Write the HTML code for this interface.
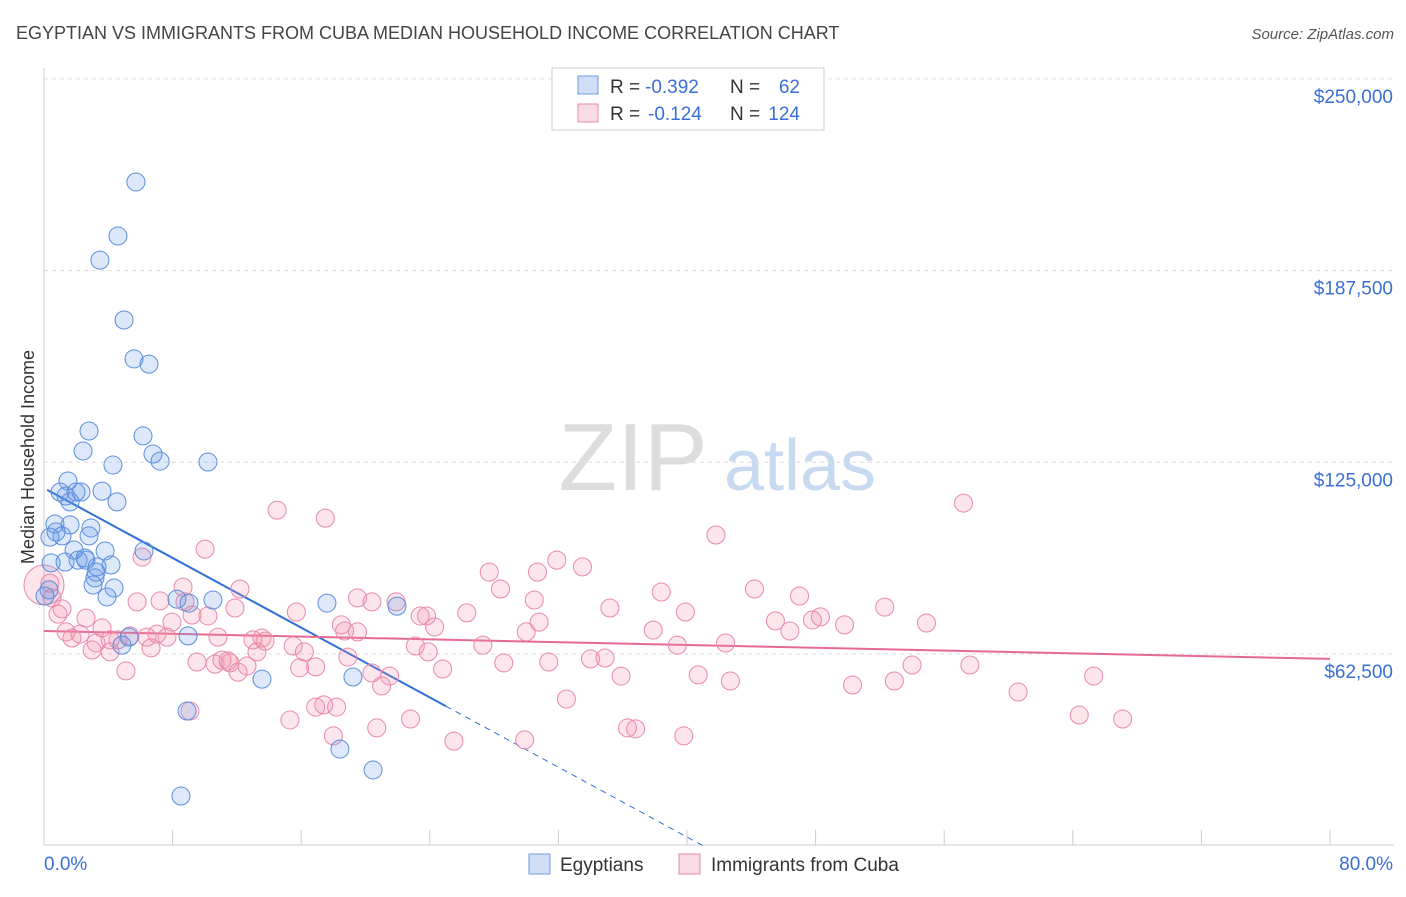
<!DOCTYPE html>
<html><head><meta charset="utf-8"><style>
body{margin:0;background:#fff;font-family:"Liberation Sans",sans-serif;}
svg text{font-family:"Liberation Sans",sans-serif;}
</style></head><body>
<svg id="chart" width="1406" height="892" xmlns="http://www.w3.org/2000/svg">
<text x="16" y="39" font-size="18" fill="#444">EGYPTIAN VS IMMIGRANTS FROM CUBA MEDIAN HOUSEHOLD INCOME CORRELATION CHART</text>
<text x="1394" y="39" font-size="15" fill="#555" text-anchor="end" font-style="italic">Source: ZipAtlas.com</text>
<g>
<text x="633" y="490" font-size="96" fill="#dddddd" text-anchor="middle" font-family="Liberation Serif">ZIP</text>
<text x="800" y="490" font-size="72" fill="#c8daf2" text-anchor="middle">atlas</text>
</g>
<g id="grid"></g>
<g id="axes"></g>
<g id="trends"></g>
<g id="points"></g>
<text transform="translate(34,457) rotate(-90)" font-size="18" fill="#333" text-anchor="middle">Median Household Income</text>
<g>
<rect x="552" y="68" width="272" height="62" fill="#fff" stroke="#ccc"/>
<rect x="578" y="76" width="20" height="18" fill="rgba(100,150,230,0.3)" stroke="#6a9be0"/>
<rect x="578" y="104" width="20" height="18" fill="rgba(240,140,170,0.3)" stroke="#e88aaa"/>
<text x="610" y="93" font-size="19" fill="#333">R =</text>
<text x="645" y="93" font-size="19" fill="#3a6fd8">-0.392</text>
<text x="730" y="93" font-size="19" fill="#333">N =</text>
<text x="800" y="93" font-size="19" fill="#3a6fd8" text-anchor="end">62</text>
<text x="610" y="120" font-size="19" fill="#333">R =</text>
<text x="648" y="120" font-size="19" fill="#3a6fd8">-0.124</text>
<text x="730" y="120" font-size="19" fill="#333">N =</text>
<text x="800" y="120" font-size="19" fill="#3a6fd8" text-anchor="end">124</text>
</g>
<g>
<rect x="529" y="854" width="21" height="20" fill="rgba(100,150,230,0.3)" stroke="#6a9be0"/>
<text x="560" y="871" font-size="19" fill="#333">Egyptians</text>
<rect x="679" y="854" width="21" height="20" fill="rgba(240,140,170,0.3)" stroke="#e88aaa"/>
<text x="711" y="871" font-size="19" fill="#333">Immigrants from Cuba</text>
</g>
</svg>
<script>
const yTicks=[62500,125000,187500,250000];
const yTickLabels=["$62,500","$125,000","$187,500","$250,000"];
const xTickLabels=["0.0%","80.0%"];
const blueX=[5.72,4.60,3.48,4.98,5.60,6.53,2.80,6.16,2.43,6.78,7.22,4.29,10.2,1.49,1.00,1.37,1.99,2.30,3.61,4.54,1.62,0.68,1.62,2.92,0.75,1.12,0.37,2.80,1.87,3.80,6.22,2.12,2.61,0.44,1.31,2.55,3.30,4.17,3.24,3.17,3.05,4.36,0.31,3.92,8.27,10.51,9.02,17.6,21.96,8.96,5.29,4.85,13.56,19.22,8.90,18.41,20.47,8.52,0.06];
const blueY=[216.4,198.8,190.9,171.4,158.7,157.0,135.2,133.6,128.7,127.7,125.4,124.1,125.1,118.9,115.3,114.0,115.3,115.3,115.6,112.1,112.1,104.9,104.6,103.6,102.3,101.0,100.6,101.0,96.4,96.1,96.1,93.1,93.1,92.2,92.5,93.8,90.9,91.5,89.2,87.3,85.0,84.0,83.4,81.1,80.4,80.1,79.1,79.1,78.1,68.4,68.0,65.4,54.3,55.0,43.9,31.5,24.7,16.2,81.4];
const pinkX=[0.37,0.50,1.12,0.87,2.61,1.37,1.74,2.24,3.61,4.11,3.24,2.99,4.11,4.60,5.10,5.35,5.79,6.10,6.41,6.66,7.03,7.22,7.65,7.96,8.65,8.77,9.08,9.21,9.52,10.02,10.2,10.64,10.82,11.07,11.45,11.57,11.88,12.07,12.19,12.63,13.0,13.25,13.56,13.75,14.5,15.3,15.5,15.7,15.9,16.2,16.9,16.9,17.5,17.4,18.0,18.2,18.5,18.7,18.9,19.5,19.5,20.4,20.4,21.0,20.7,21.5,21.9,22.8,23.1,23.4,23.8,23.9,24.3,24.8,25.5,26.3,27.3,27.7,28.4,28.6,29.9,30.0,30.5,30.8,30.7,31.4,31.9,32.5,33.5,34.0,34.9,35.2,35.9,36.3,36.8,37.9,38.4,39.4,39.8,39.9,40.7,41.8,42.4,42.7,44.2,45.5,46.4,47.0,47.8,48.3,49.8,50.3,52.3,52.9,54.0,54.9,57.2,57.6,60.6,64.4,65.3,67.1];
const pinkY=[85.6,80.8,77.2,75.5,74.2,69.7,67.7,69.0,71.0,67.1,66.1,63.8,63.2,67.1,57.0,68.4,79.5,94.1,68.0,64.5,69.0,79.8,68.0,72.9,84.3,79.5,43.9,75.2,59.9,96.7,74.9,59.2,68.0,60.5,60.2,59.6,77.5,56.6,83.7,58.6,67.1,63.2,67.7,66.7,109.4,41.0,65.1,76.2,58.0,63.2,58.3,45.2,106.8,45.9,35.8,45.2,72.0,70.0,61.5,69.7,80.8,79.5,56.3,52.1,38.4,55.3,79.5,41.3,65.1,74.9,74.9,63.2,71.3,57.6,34.1,75.9,65.4,89.2,83.7,59.6,34.5,69.7,80.1,72.9,89.2,59.9,93.1,47.8,90.9,60.9,61.2,77.5,55.3,38.4,38.1,70.3,82.7,65.4,35.8,76.2,55.7,101.3,66.1,53.7,83.7,73.3,70.0,81.4,73.6,74.6,72.0,52.4,77.8,53.7,58.9,72.6,111.7,58.9,50.1,42.6,55.3,41.3];
const blueTrend=[[0.2,116],[25,45.5],[41,0]];
const pinkTrend=[[0,70],[80,60.9]];
const NS="http://www.w3.org/2000/svg";
const X=v=>44+v/80*1286;
const Y=v=>654-(v-62.5)/62.5*191.7;
function mk(tag,attrs,parent){const e=document.createElementNS(NS,tag);for(const k in attrs)e.setAttribute(k,attrs[k]);document.getElementById(parent).appendChild(e);return e;}
yTicks.forEach((t,i)=>{
 const g=mk('line',{x1:44,x2:1394,y1:Y(t/1000),y2:Y(t/1000),stroke:'#ddd','stroke-dasharray':'4,4'},'grid');
 
 
 const l=mk('text',{x:1393,y:Y(t/1000)+24,'font-size':19,fill:'#3a6fd8','text-anchor':'end'},'axes');
 l.textContent=yTickLabels[i];
 
 
});
mk('line',{x1:44,x2:44,y1:68,y2:845,stroke:'#ccc'},'axes');
mk('line',{x1:44,x2:1394,y1:845,y2:845,stroke:'#ccc'},'axes');
for(let i=1;i<=10;i++){mk('line',{x1:X(i*8),x2:X(i*8),y1:830,y2:845,stroke:'#ccc'},'axes');}
const xl0=mk('text',{x:44,y:870,'font-size':19,fill:'#3a6fd8'},'axes');xl0.textContent=xTickLabels[0];


const xl1=mk('text',{x:1393,y:870,'font-size':19,fill:'#3a6fd8','text-anchor':'end'},'axes');xl1.textContent=xTickLabels[1];


const big=mk('circle',{cx:X(0),cy:Y(85),r:20,fill:'rgba(240,140,170,0.22)',stroke:'#e88aaa','stroke-width':1},'points');


pinkX.forEach((x,i)=>{const c=mk('circle',{cx:X(x),cy:Y(pinkY[i]),r:9,fill:'rgba(240,140,170,0.22)',stroke:'#e88aaa','stroke-width':1},'points');
 
 });
blueX.forEach((x,i)=>{const c=mk('circle',{cx:X(x),cy:Y(blueY[i]),r:9,fill:'rgba(100,150,230,0.22)',stroke:'#5b8fdc','stroke-width':1},'points');
 
 });
const bt1=mk('line',{x1:X(blueTrend[0][0]),y1:Y(blueTrend[0][1]),x2:X(blueTrend[1][0]),y2:Y(blueTrend[1][1]),stroke:'#2f6fd6','stroke-width':2},'trends');


const bt2=mk('line',{x1:X(blueTrend[1][0]),y1:Y(blueTrend[1][1]),x2:X(blueTrend[2][0]),y2:Y(blueTrend[2][1]),stroke:'#2f6fd6','stroke-width':1,'stroke-dasharray':'6,5'},'trends');


const pt=mk('line',{x1:X(pinkTrend[0][0]),y1:Y(pinkTrend[0][1]),x2:X(pinkTrend[1][0]),y2:Y(pinkTrend[1][1]),stroke:'#e56a93','stroke-width':2},'trends');


</script>
</body></html>
